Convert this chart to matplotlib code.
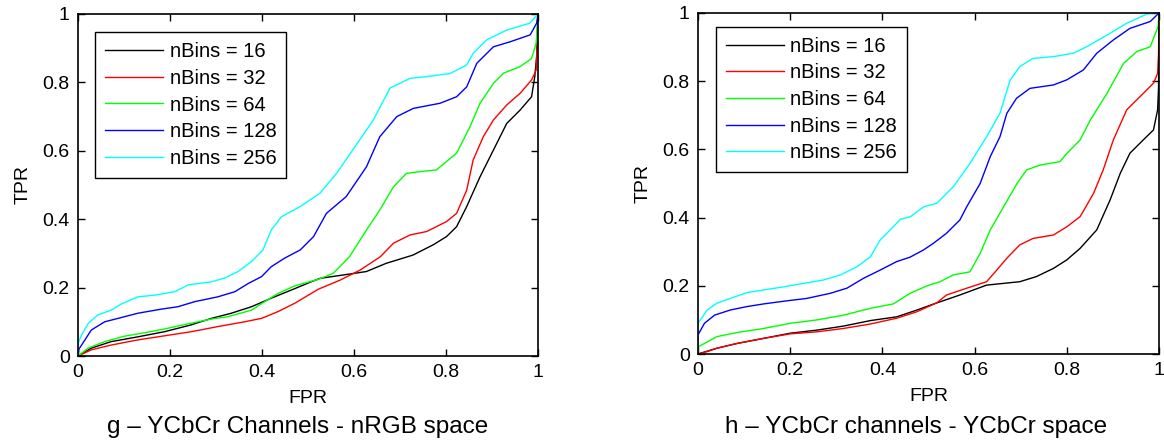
import matplotlib
matplotlib.use('Agg')
from matplotlib import pyplot as plt

plt.rcParams['font.family'] = ['Liberation Sans', 'DejaVu Sans']

labels = ['nBins = 16', 'nBins = 32', 'nBins = 64', 'nBins = 128', 'nBins = 256']
colors = [(0, 0, 0), (1, 0, 0), (0, 1, 0), (0, 0, 1), (0, 1, 1)]
ticks = [0, 0.2, 0.4, 0.6, 0.8, 1]
tick_labels = ['0', '0.2', '0.4', '0.6', '0.8', '1']

# ---- panel g : YCbCr channels, nRGB space ----
g16_x = [0, 0.029, 0.072, 0.13, 0.188, 0.246, 0.29, 0.333, 0.377, 0.42, 0.464, 0.507, 0.526, 0.577, 0.627, 0.67, 0.728, 0.772, 0.801, 0.823, 0.845, 0.874, 0.903, 0.932, 0.961, 0.986, 0.993, 0.997, 1]
g16_y = [0, 0.023, 0.042, 0.056, 0.071, 0.091, 0.110, 0.125, 0.144, 0.169, 0.193, 0.217, 0.227, 0.237, 0.247, 0.271, 0.295, 0.325, 0.349, 0.378, 0.437, 0.524, 0.602, 0.68, 0.719, 0.758, 0.817, 0.875, 1]

g32_x = [0, 0.029, 0.072, 0.13, 0.188, 0.246, 0.304, 0.362, 0.399, 0.435, 0.471, 0.522, 0.57, 0.613, 0.657, 0.686, 0.722, 0.758, 0.801, 0.823, 0.845, 0.859, 0.881, 0.903, 0.932, 0.961, 0.986, 0.996, 0.998, 1]
g32_y = [0, 0.018, 0.032, 0.047, 0.059, 0.071, 0.086, 0.1, 0.110, 0.13, 0.154, 0.195, 0.222, 0.251, 0.29, 0.33, 0.354, 0.364, 0.393, 0.417, 0.485, 0.573, 0.641, 0.69, 0.734, 0.768, 0.807, 0.836, 0.91, 1]

g64_x = [0, 0.022, 0.058, 0.101, 0.145, 0.188, 0.239, 0.29, 0.326, 0.377, 0.406, 0.435, 0.471, 0.522, 0.555, 0.59, 0.627, 0.656, 0.686, 0.714, 0.743, 0.779, 0.823, 0.852, 0.874, 0.903, 0.925, 0.961, 0.986, 0.996, 1]
g64_y = [0, 0.023, 0.042, 0.058, 0.068, 0.079, 0.094, 0.108, 0.115, 0.134, 0.159, 0.183, 0.205, 0.224, 0.242, 0.29, 0.368, 0.427, 0.495, 0.534, 0.539, 0.544, 0.593, 0.670, 0.739, 0.797, 0.827, 0.846, 0.870, 0.914, 1]

g128_x = [0, 0.002, 0.029, 0.058, 0.087, 0.13, 0.181, 0.217, 0.254, 0.304, 0.341, 0.37, 0.399, 0.42, 0.449, 0.483, 0.512, 0.54, 0.583, 0.627, 0.656, 0.693, 0.729, 0.787, 0.823, 0.845, 0.867, 0.903, 0.94, 0.983, 0.997, 1]
g128_y = [0, 0.02, 0.076, 0.1, 0.11, 0.125, 0.137, 0.144, 0.159, 0.173, 0.188, 0.212, 0.232, 0.261, 0.286, 0.31, 0.349, 0.417, 0.466, 0.553, 0.641, 0.700, 0.724, 0.739, 0.758, 0.787, 0.856, 0.904, 0.919, 0.939, 0.973, 1]

g256_x = [0, 0, 0.007, 0.022, 0.043, 0.072, 0.094, 0.13, 0.167, 0.21, 0.24, 0.29, 0.319, 0.348, 0.377, 0.402, 0.42, 0.442, 0.483, 0.526, 0.562, 0.597, 0.642, 0.678, 0.722, 0.758, 0.809, 0.845, 0.859, 0.888, 0.932, 0.982, 1]
g256_y = [0, 0.035, 0.06, 0.095, 0.12, 0.134, 0.152, 0.173, 0.178, 0.188, 0.208, 0.217, 0.228, 0.247, 0.276, 0.31, 0.368, 0.407, 0.437, 0.476, 0.534, 0.602, 0.690, 0.783, 0.812, 0.817, 0.826, 0.851, 0.885, 0.924, 0.953, 0.973, 1]

# ---- panel h : YCbCr channels, YCbCr space ----
h16_x = [0, 0.041, 0.085, 0.143, 0.2, 0.258, 0.316, 0.374, 0.431, 0.475, 0.518, 0.525, 0.568, 0.626, 0.698, 0.734, 0.771, 0.8, 0.829, 0.865, 0.894, 0.916, 0.937, 0.966, 0.988, 0.997, 0.999, 1]
h16_y = [0, 0.017, 0.031, 0.046, 0.061, 0.07, 0.082, 0.098, 0.109, 0.129, 0.150, 0.153, 0.173, 0.202, 0.212, 0.227, 0.251, 0.276, 0.31, 0.364, 0.452, 0.53, 0.589, 0.628, 0.657, 0.716, 0.78, 1]

h32_x = [0, 0.02, 0.041, 0.085, 0.143, 0.2, 0.258, 0.316, 0.374, 0.431, 0.475, 0.518, 0.539, 0.583, 0.626, 0.648, 0.67, 0.698, 0.727, 0.771, 0.8, 0.829, 0.858, 0.879, 0.901, 0.93, 0.959, 0.988, 0.997, 0.999, 1]
h32_y = [0, 0.007, 0.017, 0.031, 0.046, 0.059, 0.065, 0.075, 0.088, 0.105, 0.124, 0.150, 0.173, 0.193, 0.212, 0.246, 0.281, 0.32, 0.339, 0.349, 0.373, 0.403, 0.471, 0.54, 0.628, 0.716, 0.755, 0.794, 0.823, 0.88, 1]

h64_x = [0, 0, 0.014, 0.041, 0.085, 0.143, 0.2, 0.258, 0.316, 0.374, 0.424, 0.46, 0.497, 0.525, 0.554, 0.59, 0.612, 0.634, 0.663, 0.692, 0.713, 0.742, 0.785, 0.8, 0.829, 0.851, 0.887, 0.923, 0.952, 0.981, 0.998, 1]
h64_y = [0, 0.021, 0.031, 0.051, 0.063, 0.075, 0.09, 0.1, 0.114, 0.134, 0.147, 0.178, 0.2, 0.212, 0.232, 0.241, 0.295, 0.364, 0.432, 0.5, 0.54, 0.554, 0.564, 0.588, 0.628, 0.686, 0.764, 0.852, 0.887, 0.901, 0.96, 1]

h128_x = [0, 0, 0.014, 0.036, 0.07, 0.106, 0.143, 0.193, 0.236, 0.287, 0.323, 0.359, 0.395, 0.431, 0.46, 0.489, 0.511, 0.539, 0.568, 0.583, 0.612, 0.634, 0.655, 0.67, 0.691, 0.72, 0.771, 0.8, 0.836, 0.865, 0.901, 0.937, 0.981, 1]
h128_y = [0, 0.056, 0.09, 0.114, 0.129, 0.139, 0.147, 0.156, 0.163, 0.178, 0.193, 0.222, 0.246, 0.271, 0.284, 0.305, 0.325, 0.354, 0.393, 0.432, 0.5, 0.579, 0.637, 0.706, 0.75, 0.779, 0.789, 0.804, 0.833, 0.882, 0.921, 0.955, 0.975, 1]

h256_x = [0, 0, 0.02, 0.041, 0.07, 0.106, 0.143, 0.186, 0.229, 0.272, 0.309, 0.345, 0.374, 0.395, 0.417, 0.439, 0.461, 0.49, 0.518, 0.554, 0.59, 0.626, 0.655, 0.677, 0.698, 0.727, 0.771, 0.814, 0.843, 0.887, 0.93, 0.974, 1]
h256_y = [0, 0.09, 0.129, 0.149, 0.163, 0.18, 0.188, 0.197, 0.207, 0.217, 0.232, 0.256, 0.285, 0.334, 0.364, 0.395, 0.403, 0.432, 0.442, 0.491, 0.559, 0.637, 0.706, 0.803, 0.843, 0.867, 0.872, 0.882, 0.901, 0.935, 0.97, 0.997, 1]

panels = [
    ([g16_x, g32_x, g64_x, g128_x, g256_x], [g16_y, g32_y, g64_y, g128_y, g256_y],
     [78/1164, 88/444, 460/1164, 342/444], 0.037, 0.947, 'g \u2013 YCbCr Channels - nRGB space', 298),
    ([h16_x, h32_x, h64_x, h128_x, h256_x], [h16_y, h32_y, h64_y, h128_y, h256_y],
     [698/1164, 90/444, 461/1164, 341/444], 0.039, 0.96, 'h \u2013 YCbCr channels - YCbCr space', 916),
]

fig = plt.figure(figsize=(11.64, 4.44), dpi=100)

for xs, ys, rect, lx, ly, caption, cx in panels:
    ax = fig.add_axes(rect)
    for x, y, c, lab in zip(xs, ys, colors, labels):
        ax.plot(x, y, color=c, lw=1.0, label=lab)
    ax.set_xlim(0, 1)
    ax.set_ylim(0, 1)
    ax.set_xticks(ticks)
    ax.set_yticks(ticks)
    ax.set_xticklabels(tick_labels)
    ax.set_yticklabels(tick_labels)
    ax.tick_params(direction='in', length=5, width=1, top=True, right=True,
                   labelsize=14, pad=6, colors='black')
    for sp in ax.spines.values():
        sp.set_linewidth(1.2)
    ax.set_xlabel('FPR', fontsize=14, labelpad=6)
    ax.set_ylabel('TPR', fontsize=14, labelpad=8)
    leg = ax.legend(loc='upper left', bbox_to_anchor=(lx, ly), borderaxespad=0,
                    fontsize=14.5, frameon=True, fancybox=False, edgecolor='black',
                    framealpha=1, handlelength=2.9, handletextpad=0.3,
                    labelspacing=0.38, borderpad=0.5)
    leg.get_frame().set_linewidth(1.0)
    fig.text(cx/1164, 1 - 427/444, caption, ha='center', va='center', fontsize=17.5)

fig.savefig('out.png', dpi=100)
